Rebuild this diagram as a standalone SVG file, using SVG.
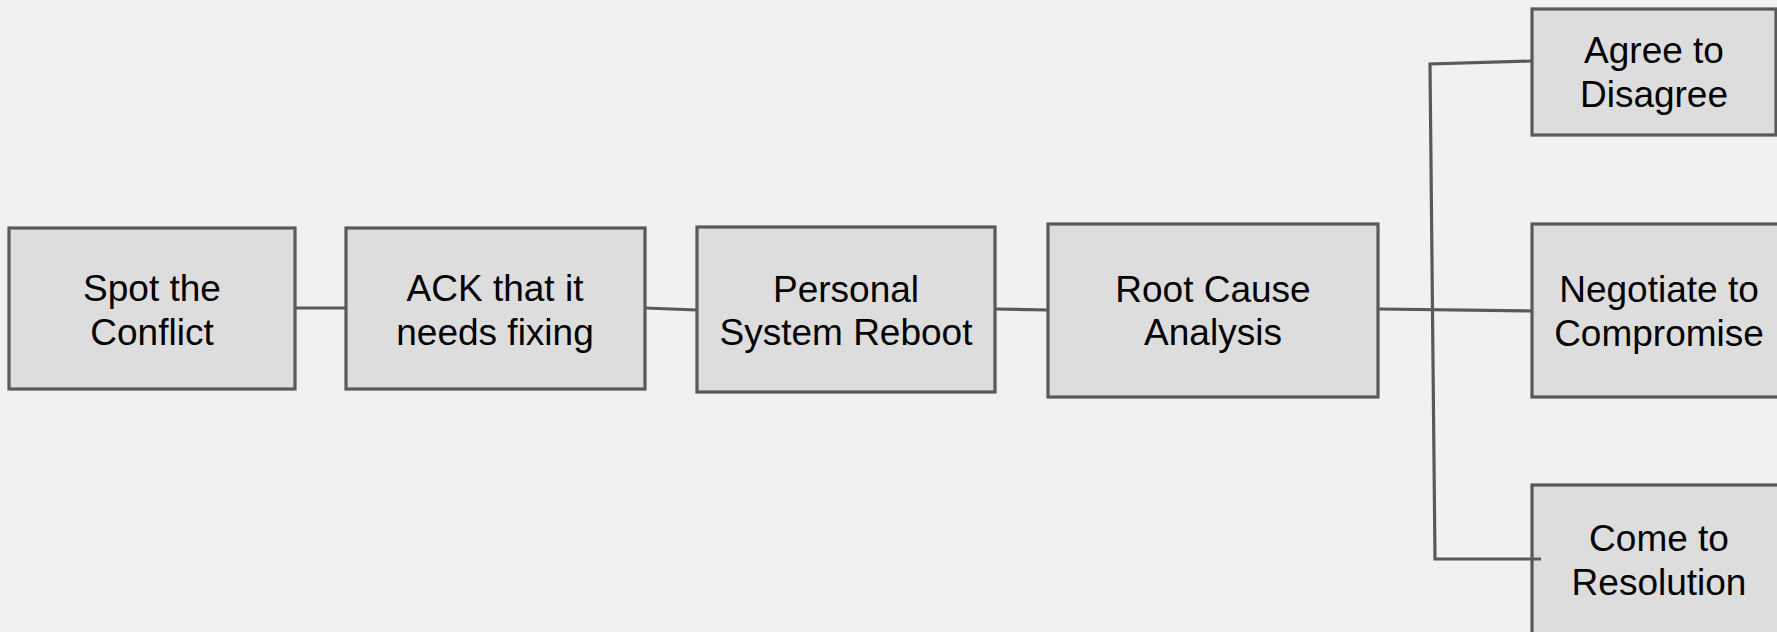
<svg xmlns="http://www.w3.org/2000/svg" width="1777" height="632" viewBox="0 0 1777 632">
<style>
.box{fill:#dddddd;stroke:#595959;stroke-width:3.2}
.lbl{font-family:"Liberation Sans",Arial,sans-serif;font-size:37px;fill:#000;text-anchor:middle}
.con{fill:none;stroke:#595959;stroke-width:3.2}
</style>
<rect width="1777" height="632" fill="#f1f1f1"/>
<g id="n1"><rect class="box" x="9" y="228" width="286" height="161"/><text class="lbl" x="152" y="301">Spot the</text><text class="lbl" x="152" y="345">Conflict</text></g>
<g id="n2"><rect class="box" x="346" y="228" width="299" height="161"/><text class="lbl" x="495" y="301">ACK that it</text><text class="lbl" x="495" y="345">needs fixing</text></g>
<g id="n3"><rect class="box" x="697" y="227" width="298" height="165"/><text class="lbl" x="846" y="302">Personal</text><text class="lbl" x="846" y="345">System Reboot</text></g>
<g id="n4"><rect class="box" x="1048" y="224" width="330" height="173"/><text class="lbl" x="1213" y="302">Root Cause</text><text class="lbl" x="1213" y="345">Analysis</text></g>
<g id="n5"><rect class="box" x="1532" y="9" width="244" height="126"/><text class="lbl" x="1654" y="63">Agree to</text><text class="lbl" x="1654" y="107">Disagree</text></g>
<g id="n6"><rect class="box" x="1532" y="224" width="254" height="173"/><text class="lbl" x="1659" y="302">Negotiate to</text><text class="lbl" x="1659" y="346">Compromise</text></g>
<g id="n7"><rect class="box" x="1532" y="485" width="254" height="160"/><text class="lbl" x="1659" y="551">Come to</text><text class="lbl" x="1659" y="595">Resolution</text></g>
<g id="connectors">
<path class="con" d="M295 308 L346 308"/>
<path class="con" d="M645 308 L697 310"/>
<path class="con" d="M995 309 L1048 310"/>
<path class="con" d="M1379 309 L1532 311"/>
<path class="con" d="M1532 61 L1430 64 L1435 559 L1541 559"/>
</g>
</svg>
